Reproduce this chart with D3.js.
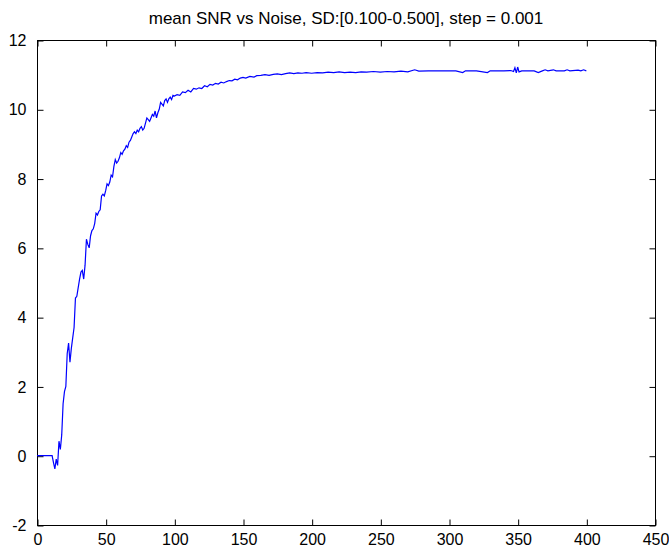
<!DOCTYPE html>
<html>
<head>
<meta charset="utf-8">
<script src="https://cdn.jsdelivr.net/npm/d3@7"></script>
<style>
  body { margin: 0; background: #fff; }
  text { font-family: "Liberation Sans", Arial, sans-serif; fill: #000; }
</style>
</head>
<body>
<script>
const width = 669;
const height = 552;
const margin = {top: 40, right: 14, bottom: 27, left: 37};
const title = 'mean SNR vs Noise, SD:[0.100-0.500], step = 0.001';

// значения
const xs = [0, 11, 12, 13, 14, 15, 16, 17, 18, 19, 20, 21, 22, 23, 24, 25, 26, 27, 28, 29,
  30, 31, 32, 33, 34, 35, 36, 37, 38, 39, 40, 41, 42, 43, 44, 45, 46, 47, 48, 49,
  50, 51, 52, 53, 54, 55, 56, 57, 58, 59, 60, 61, 62, 63, 64, 65, 66, 67, 68, 69,
  70, 71, 72, 73, 74, 75, 76, 77, 78, 79, 80, 81, 82, 83, 84, 85, 86, 87, 88, 89,
  90, 91, 92, 93, 94, 95, 96, 97, 98, 99, 100, 102, 104, 106, 108, 110, 112, 114, 116, 118,
  120, 122, 124, 126, 128, 130, 132, 134, 136, 138, 140, 142, 144, 146, 148, 150, 152, 155, 158, 160,
  163, 166, 169, 172, 175, 178, 181, 184, 187, 190, 193, 196, 200, 204, 208, 212, 216, 220, 224, 228,
  232, 236, 240, 245, 250, 255, 260, 265, 270, 275, 278, 285, 295, 305, 310, 312, 320, 328, 330, 340,
  345, 347, 348, 349, 350, 351, 353, 362, 365, 368, 370, 372, 376, 378, 384, 386, 388, 394, 396, 398, 400];
const snr = [0, 0, -0.2, -0.38, -0.1, -0.28, 0.42, 0.18, 0.6, 1.5, 1.85, 2.0, 2.95, 3.25, 2.7, 3.1, 3.4, 3.7, 4.55, 4.6,
  4.85, 5.1, 5.3, 5.35, 5.1, 5.5, 6.25, 6.1, 6.0, 6.35, 6.5, 6.55, 6.7, 7.0, 6.95, 7.05, 7.1, 7.5, 7.55, 7.5,
  7.65, 7.85, 7.8, 7.9, 8.1, 8.05, 8.35, 8.55, 8.45, 8.5, 8.6, 8.75, 8.7, 8.8, 8.85, 8.95, 8.9, 9.05, 9.1, 9.2,
  9.3, 9.35, 9.3, 9.4, 9.35, 9.45, 9.5, 9.4, 9.45, 9.6, 9.75, 9.7, 9.65, 9.75, 9.85, 9.8, 9.95, 9.75, 9.9, 10.0,
  10.2, 10.15, 10.1, 10.25, 10.3, 10.2, 10.3, 10.35, 10.28, 10.4, 10.38, 10.42, 10.4, 10.5, 10.48, 10.55, 10.5, 10.6, 10.58, 10.62,
  10.6, 10.68, 10.65, 10.72, 10.7, 10.75, 10.73, 10.78, 10.76, 10.8, 10.83, 10.82, 10.87, 10.85, 10.9, 10.92, 10.9, 10.95, 10.93, 10.97,
  10.98, 11.0, 10.98, 11.01, 11.02, 11.0, 11.03, 11.05, 11.03, 11.05, 11.04, 11.06, 11.04, 11.06, 11.05, 11.07, 11.06, 11.08, 11.06, 11.07,
  11.06, 11.08, 11.07, 11.09, 11.07, 11.09, 11.08, 11.1, 11.08, 11.14, 11.1, 11.11, 11.11, 11.11, 11.06, 11.11, 11.11, 11.06, 11.11, 11.11,
  11.12, 11.09, 11.2, 11.05, 11.22, 11.08, 11.11, 11.11, 11.06, 11.11, 11.14, 11.11, 11.14, 11.11, 11.11, 11.14, 11.11, 11.13, 11.11, 11.14, 11.11];
const xTicks = [0, 50, 100, 150, 200, 250, 300, 350, 400, 450];
const yTicks = [-2, 0, 2, 4, 6, 8, 10, 12];

const svg = d3.select('body').append('svg')
    .attr('width', width).attr('height', height);

const x = d3.scaleLinear().domain([0, 450]).range([margin.left, width - margin.right]);
const y = d3.scaleLinear().domain([-2, 12]).range([height - margin.bottom, margin.top]);

// рамка осей
svg.append('rect')
    .attr('x', x(0) + 0.5).attr('y', y(12) + 0.5)
    .attr('width', x(450) - x(0)).attr('height', y(-2) - y(12))
    .attr('fill', '#fff').attr('stroke', '#000');

const tickLen = 6;
const fontSize = '16px';
const plain = d => String(d); // обычный дефис вместо U+2212

// оси: тики внутрь, как в matlab
const axBottom = svg.append('g').attr('transform', `translate(0.5,${y(-2) + 0.5})`)
    .call(d3.axisBottom(x).tickValues(xTicks).tickFormat(plain).tickSize(-tickLen).tickPadding(2 + tickLen));
const axTop = svg.append('g').attr('transform', `translate(0.5,${y(12) + 0.5})`)
    .call(d3.axisTop(x).tickValues(xTicks).tickSize(-tickLen).tickFormat(''));
const axLeft = svg.append('g').attr('transform', `translate(${x(0) + 0.5},0.5)`)
    .call(d3.axisLeft(y).tickValues(yTicks).tickFormat(plain).tickSize(-tickLen).tickPadding(5 + tickLen));
const axRight = svg.append('g').attr('transform', `translate(${x(450) + 0.5},0.5)`)
    .call(d3.axisRight(y).tickValues(yTicks).tickSize(-tickLen).tickFormat(''));

[axBottom, axTop, axLeft, axRight].forEach(g => {
  g.select('.domain').remove();
  g.selectAll('line').attr('stroke', '#000');
  g.selectAll('text').attr('font-size', fontSize).attr('font-family', null);
});

// линия SNR
const pts = xs.map((d, i) => [d, snr[i]]);
svg.append('path')
    .datum(pts)
    .attr('fill', 'none')
    .attr('stroke', '#0000ff')
    .attr('stroke-width', 1.2)
    .attr('d', d3.line().x(d => x(d[0])).y(d => y(d[1])));

svg.append('text')
    .attr('x', (x(0) + x(450)) / 2).attr('y', 24)
    .attr('text-anchor', 'middle')
    .attr('font-size', '17px')
    .text(title);
</script>
</body>
</html>
